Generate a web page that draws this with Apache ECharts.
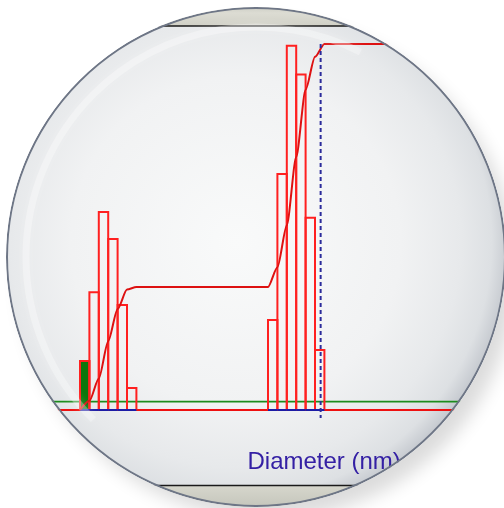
<!DOCTYPE html>
<html>
<head>
<meta charset="utf-8">
<script src="https://cdn.jsdelivr.net/npm/echarts@6/dist/echarts.min.js"></script>
<style>
  html, body { margin: 0; padding: 0; background: #ffffff; }
  #shadow { position: absolute; left: 6px; top: 7px; width: 500px; height: 500px; border-radius: 50%;
            background: #ffffff; box-shadow: 12px 14px 18px -2px rgba(0,0,0,0.14); }
  #chart { position: absolute; left: 0; top: 0; width: 504px; height: 508px;
           clip-path: circle(250px at 256px 257px); }
</style>
</head>
<body>
<div id="shadow"></div>
<div id="chart"></div>
<script>
// ---- data ----
const binStart = [0, 1, 2, 3, 4, 5, 20, 21, 22, 23, 24, 25];          // bin index (log-diameter classes)
const binFreq  = [13.4, 32.2, 54.1, 46.7, 28.7, 6.0, 24.6, 64.5, 99.5, 91.7, 52.5, 16.4];
const highlightBin = [0];                                               // filled green class
const cumX = [0, 1, 2, 3, 4, 5, 6, 20, 21, 22, 23, 24, 25, 26, 45];
const cumY = [0, 2.5, 8.6, 18.8, 27.6, 32.9, 33.6, 33.6, 39.0, 50.5, 69.1, 87.5, 96.5, 100, 100];
const greenLevel = [2.3];
const markerX = [25.6];
const xLabel = 'Diameter (nm)';

const X_MIN = -8, X_MAX = 45;

const chart = echarts.init(document.getElementById('chart'), null, { renderer: 'canvas' });

const barData = binStart.map((s, i) => [s, s + 1, binFreq[i]]);
const greenData = highlightBin.map(i => [binStart[i], binStart[i] + 1, binFreq[i]]);

function outlineBar(params, api) {
  const x0 = api.value(0), x1 = api.value(1), v = api.value(2);
  return {
    type: 'polyline',
    shape: { points: [api.coord([x0, 0]), api.coord([x0, v]), api.coord([x1, v]), api.coord([x1, 0])] },
    style: { stroke: '#ff2020', lineWidth: 2, fill: null }
  };
}
function filledBar(params, api) {
  const x0 = api.value(0), x1 = api.value(1), v = api.value(2);
  const a = api.coord([x0, v]), b = api.coord([x1, 0]);
  return {
    type: 'rect',
    shape: { x: a[0], y: a[1], width: b[0] - a[0], height: b[1] - a[1] },
    style: { fill: '#0c760c', stroke: '#ff2020', lineWidth: 1.5 }
  };
}
function bottomEdge(params, api) {
  const x0 = api.value(0), x1 = api.value(1);
  const p = api.coord([x0, 0]), q = api.coord([x1, 0]);
  return {
    type: 'line',
    shape: { x1: p[0], y1: p[1], x2: q[0], y2: q[1] },
    style: { stroke: '#1c1ca6', lineWidth: 2 }
  };
}

const option = {
  animation: false,
  grid: { left: 4.8, right: 1, top: 7.4, bottom: 61.4 },
  xAxis: { type: 'value', min: X_MIN, max: X_MAX, show: false },
  yAxis: { type: 'value', min: -10, max: 110, show: false },
  graphic: [
    { type: 'circle', z: 0, silent: true, shape: { cx: 256, cy: 257, r: 250 },
      style: { fill: new echarts.graphic.RadialGradient(0.46, 0.47, 0.55, [
        { offset: 0, color: '#f9fafa' }, { offset: 0.6, color: '#f1f2f3' },
        { offset: 0.82, color: '#e7e9eb' }, { offset: 0.93, color: '#dde0e3' },
        { offset: 1, color: '#c4c8ce' }]) } },
    { type: 'rect', z: 1, silent: true, shape: { x: 0, y: 0, width: 504, height: 26 },
      style: { fill: new echarts.graphic.LinearGradient(0, 0, 0, 1, [
        { offset: 0, color: '#bdbeb5' }, { offset: 0.5, color: '#dcdcd3' }, { offset: 1, color: '#d0d0c6' }]) } },
    { type: 'line', z: 1, silent: true, shape: { x1: 0, y1: 26, x2: 504, y2: 26 },
      style: { stroke: '#1a1a1a', lineWidth: 1.5 } },
    { type: 'rect', z: 1, silent: true, shape: { x: 0, y: 486, width: 504, height: 22 },
      style: { fill: new echarts.graphic.LinearGradient(0, 0, 0, 1, [
        { offset: 0, color: '#d6d6cc' }, { offset: 1, color: '#c4c5bb' }]) } },
    { type: 'line', z: 1, silent: true, shape: { x1: 0, y1: 485.5, x2: 504, y2: 485.5 },
      style: { stroke: '#1a1a1a', lineWidth: 1.5 } },
    { type: 'text', z: 5, silent: true,
      style: { text: xLabel, x: 247.5, y: 462, textAlign: 'left', textVerticalAlign: 'middle',
               font: '24px "Liberation Sans", Arial, sans-serif', fill: '#3420a4' } },
    { type: 'arc', z: 50, silent: true, shape: { cx: 256, cy: 257, r: 230, startAngle: Math.PI * 0.75, endAngle: Math.PI * 1.65 },
      style: { stroke: 'rgba(255,255,255,0.3)', lineWidth: 7, fill: null, shadowBlur: 8, shadowColor: 'rgba(255,255,255,0.7)' } },
    { type: 'circle', z: 100, silent: true, shape: { cx: 256, cy: 257, r: 249 },
      style: { fill: null, stroke: '#6e7686', lineWidth: 2 } }
  ],
  series: [
    { type: 'line', z: 2, silent: true, symbol: 'none', data: [[X_MIN, greenLevel[0]], [X_MAX, greenLevel[0]]],
      lineStyle: { color: '#1c8c1c', width: 1.8 } },
    { type: 'line', z: 3, silent: true, symbol: 'none', data: [[X_MIN, 0], [X_MAX, 0]],
      lineStyle: { color: '#ee1010', width: 1.8 } },
    { type: 'custom', z: 4, silent: true, renderItem: filledBar, data: greenData },
    { type: 'custom', z: 5, silent: true, renderItem: outlineBar, data: barData },
    { type: 'custom', z: 6, silent: true, renderItem: bottomEdge, data: barData },
    { type: 'line', z: 7, silent: true, symbol: 'none', smooth: 0.25, smoothMonotone: 'x',
      data: cumX.map((x, i) => [x, cumY[i]]), lineStyle: { color: '#dd1111', width: 2 } },
    { type: 'line', z: 8, silent: true, symbol: 'none', data: [[markerX[0], 100], [markerX[0], -2.2]],
      lineStyle: { color: '#2b2b9b', width: 2, type: [4, 3] } }
  ]
};
chart.setOption(option);
</script>
</body>
</html>
